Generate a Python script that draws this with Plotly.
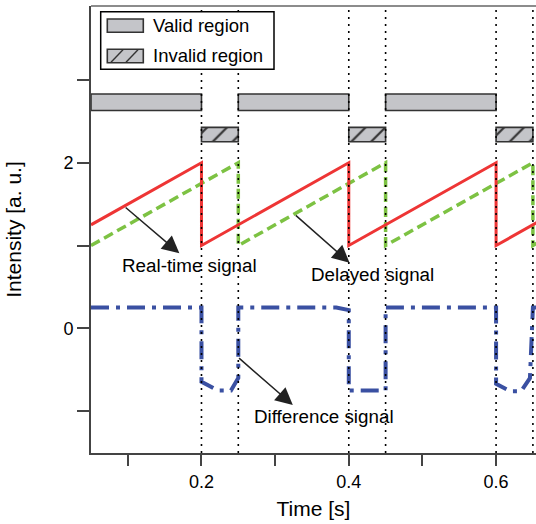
import plotly.graph_objects as go

# ---------------- data ----------------
time_rt = [0.05, 0.2, 0.2, 0.4, 0.4, 0.6, 0.6, 0.66]
realtime = [1.25, 2.0, 1.0, 2.0, 1.0, 2.0, 1.0, 1.3]

time_dl = [0.05, 0.25, 0.25, 0.45, 0.45, 0.65, 0.65, 0.66]
delayed = [1.0, 2.0, 1.0, 2.0, 1.0, 2.0, 1.0, 1.05]

time_diff = [0.05, 0.2, 0.2, 0.222, 0.240, 0.249, 0.25, 0.25, 0.383, 0.4, 0.4,
             0.45, 0.45, 0.6, 0.6, 0.6195, 0.634, 0.646, 0.65, 0.66]
difference = [0.25, 0.25, -0.645, -0.75, -0.75, -0.6, -0.6, 0.25, 0.25, 0.22, -0.75,
              -0.75, 0.25, 0.25, -0.67, -0.76, -0.76, -0.6, 0.25, 0.25]

valid_start = [0.05, 0.25, 0.45]
valid_end = [0.2, 0.4, 0.6]
invalid_start = [0.2, 0.4, 0.6]
invalid_end = [0.25, 0.45, 0.65]
valid_level = 2.73
invalid_level = 2.34

boundaries = [0.2, 0.25, 0.4, 0.45, 0.6, 0.65]

x_tickvals = [0.1, 0.2, 0.3, 0.4, 0.5, 0.6]
x_ticktext = ["", "0.2", "", "0.4", "", "0.6"]
y_tickvals = [-1, 0, 1, 2, 3]
y_ticktext = ["", "0", "", "2", ""]

# ---------------- styles ----------------
FONT = "Liberation Sans, Arial, Helvetica, sans-serif"
RED = "#EE3535"
GREEN = "#7DC243"
BLUE = "#3A50A2"
BARFILL = "#C4C5C9"
EDGE = "#333333"
AXIS = "#444444"

W, H = 536, 524
ML, MR, MT, MB = 91, 0, 6, 71
PW, PH = W - ML - MR, H - MT - MB


def px_x(px):
    return (px - ML) / PW


def px_y(py):
    return (H - MB - py) / PH


fig = go.Figure()

# region bars
fig.add_trace(go.Bar(
    orientation="h",
    y=[valid_level] * len(valid_start),
    base=valid_start,
    x=[e - s for s, e in zip(valid_start, valid_end)],
    width=0.2,
    marker=dict(color=BARFILL, line=dict(color=EDGE, width=1.6)),
    showlegend=False, hoverinfo="skip",
))
fig.add_trace(go.Bar(
    orientation="h",
    y=[invalid_level] * len(invalid_start),
    base=invalid_start,
    x=[e - s for s, e in zip(invalid_start, invalid_end)],
    width=0.175,
    marker=dict(color=BARFILL, line=dict(color=EDGE, width=1.6),
                pattern=dict(shape="/", fgcolor=EDGE, bgcolor=BARFILL, fgopacity=1,
                             size=14, solidity=0.16)),
    showlegend=False, hoverinfo="skip",
))

# signals
fig.add_trace(go.Scatter(x=time_dl, y=delayed, mode="lines",
                         line=dict(color=GREEN, width=3.5, dash="10px,5px"),
                         showlegend=False, hoverinfo="skip"))
fig.add_trace(go.Scatter(x=time_rt, y=realtime, mode="lines",
                         line=dict(color=RED, width=3),
                         showlegend=False, hoverinfo="skip"))
fig.add_trace(go.Scatter(x=time_diff, y=difference, mode="lines",
                         line=dict(color=BLUE, width=4, dash="18px,7px,4px,7px"),
                         showlegend=False, hoverinfo="skip"))

shapes = []
# boundary dotted lines
for b in boundaries:
    shapes.append(dict(type="line", xref="x", yref="paper", x0=b, x1=b, y0=0, y1=1,
                       line=dict(color="black", width=1.6, dash="2px,5px"), layer="above"))
# top frame line
shapes.append(dict(type="line", xref="paper", yref="paper", x0=0, x1=1, y0=1, y1=1,
                   line=dict(color="#666666", width=1.5), layer="above"))

# legend box
shapes.append(dict(type="rect", xref="paper", yref="paper",
                   x0=px_x(100.7), x1=px_x(274), y0=px_y(69.3), y1=px_y(11.7),
                   fillcolor="white", line=dict(color="black", width=1.5), layer="above"))
shapes.append(dict(type="rect", xref="paper", yref="paper",
                   x0=px_x(107.3), x1=px_x(143.3), y0=px_y(32.3), y1=px_y(19),
                   fillcolor=BARFILL, line=dict(color=EDGE, width=1.6), layer="above"))
shapes.append(dict(type="rect", xref="paper", yref="paper",
                   x0=px_x(107.3), x1=px_x(143.3), y0=px_y(62.7), y1=px_y(49.3),
                   fillcolor=BARFILL, line=dict(color=EDGE, width=1.6), layer="above"))
for (bx, tx) in [(111, 123), (126, 138)]:
    shapes.append(dict(type="line", xref="paper", yref="paper",
                       x0=px_x(bx), x1=px_x(tx), y0=px_y(62.2), y1=px_y(49.8),
                       line=dict(color=EDGE, width=1.4), layer="above"))

annotations = [
    dict(xref="paper", yref="paper", x=px_x(151), y=px_y(25.5), text="Valid region",
         showarrow=False, xanchor="left", yanchor="middle",
         font=dict(family=FONT, size=18.5, color="black")),
    dict(xref="paper", yref="paper", x=px_x(151), y=px_y(55.5), text="Invalid region",
         showarrow=False, xanchor="left", yanchor="middle",
         font=dict(family=FONT, size=18.5, color="black")),
]

# callouts: (label, tail x, tail y, head x, head y, text x, text y)
callouts = [
    ("Real-time signal", 0.095, 1.475, 0.170, 0.906, 0.1836, 0.764),
    ("Delayed signal", 0.326, 1.38, 0.401, 0.792, 0.4325, 0.644),
    ("Difference signal", 0.249, -0.345, 0.324, -0.926, 0.367, -1.068),
]
for label, tx, ty, hx, hy, lx, ly in callouts:
    annotations.append(dict(x=hx, y=hy, ax=tx, ay=ty, xref="x", yref="y",
                            axref="x", ayref="y", text="", showarrow=True,
                            arrowhead=2, arrowsize=2.3, arrowwidth=1.5,
                            arrowcolor="#222222", standoff=0, startstandoff=0))
    annotations.append(dict(x=lx, y=ly, xref="x", yref="y", text=label,
                            showarrow=False, xanchor="center", yanchor="middle",
                            font=dict(family=FONT, size=18.8, color="black")))

fig.update_layout(
    width=W, height=H,
    margin=dict(l=ML, r=MR, t=MT, b=MB, pad=0),
    paper_bgcolor="white", plot_bgcolor="white",
    barmode="overlay",
    font=dict(family=FONT, size=18, color="black"),
    shapes=shapes, annotations=annotations,
    xaxis=dict(range=[0.05, 0.05 + PW / 736.5], tickvals=x_tickvals, ticktext=x_ticktext,
               ticks="outside", ticklen=11, tickwidth=1.5, tickcolor=AXIS,
               showline=True, linecolor=AXIS, linewidth=2, showgrid=False, zeroline=False,
               tickfont=dict(family=FONT, size=18),
               title=dict(text="Time [s]", font=dict(family=FONT, size=21), standoff=11)),
    yaxis=dict(range=[-1.506, 3.893], tickvals=y_tickvals, ticktext=y_ticktext,
               ticks="outside", ticklen=12, tickwidth=1.5, tickcolor=AXIS,
               showline=True, linecolor=AXIS, linewidth=2, showgrid=False, zeroline=False,
               tickfont=dict(family=FONT, size=18),
               title=dict(text="Intensity [a. u.]", font=dict(family=FONT, size=21), standoff=36)),
)

fig.write_html("out.html")
